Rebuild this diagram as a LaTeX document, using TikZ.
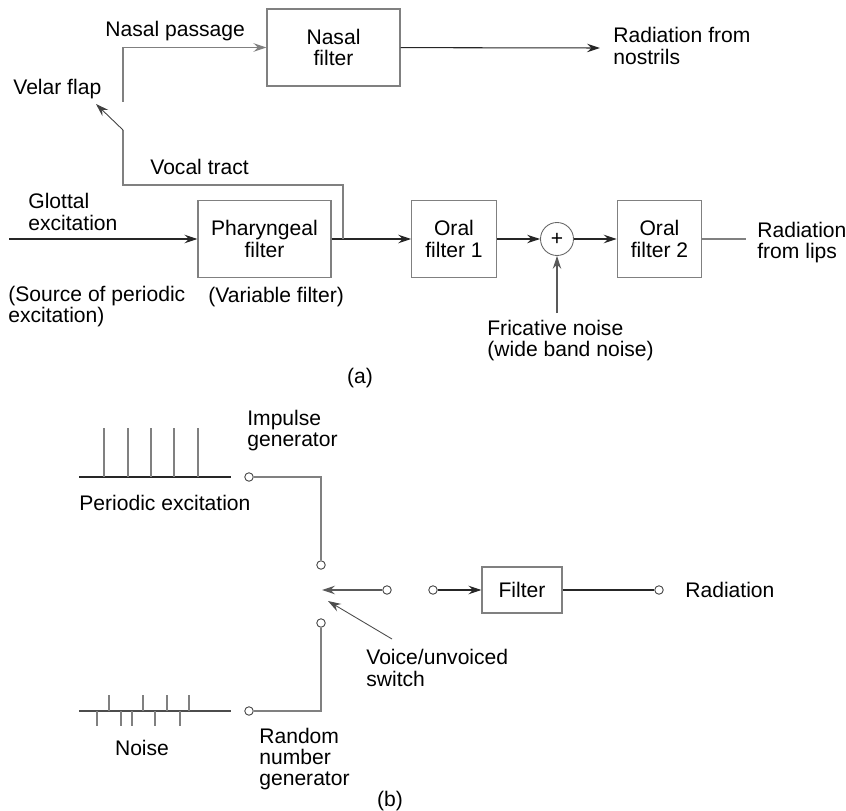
\documentclass[tikz,border=0pt]{standalone}
\usepackage{fontspec}
\setmainfont{Liberation Sans}
\usetikzlibrary{arrows.meta, positioning}

\begin{document}
\begin{tikzpicture}[x=0.02cm, y=-0.02cm, font=\fontsize{12}{12}\selectfont, >=Stealth]
  % Styles
  \tikzset{
    box/.style={draw=black!50, line width=0.6pt, align=center, minimum height=1.54cm, minimum width=2.66cm, inner sep=2pt},
    oral/.style={box, minimum width=1.69cm},
    term/.style={circle, draw=black!75, line width=0.5pt, fill=white, minimum size=0.17cm, inner sep=0pt},
    sumnode/.style={circle, draw=black!60, line width=0.5pt, minimum size=0.66cm, inner sep=0pt},
    arrow/.style={-{Stealth[length=2.6mm,width=1.7mm,inset=0.9mm]}, line width=0.6pt, draw=black!85},
    wire/.style={line width=0.6pt, draw=black!50},
    warrow/.style={wire, -{Stealth[length=2.6mm,width=1.7mm,inset=0.9mm]}},
    label/.style={align=left, anchor=west, inner sep=0pt}
  }
  \useasboundingbox (0,0) rectangle (846,811);

  % Nodes (a)
  \node[box] (nasal) at (333.5,47.5) {Nasal\\filter};
  \node[box] (phar) at (264.5,239) {Pharyngeal\\filter};
  \node[oral] (oral1) at (454,239) {Oral\\filter 1};
  \node[sumnode] (sum) at (557,239) {+};
  \node[oral] (oral2) at (659.5,239) {Oral\\filter 2};

  \coordinate (glot) at (9,239);
  \coordinate (tap) at (343,239);
  \coordinate (flap) at (123,130);
  \coordinate (flaptip) at (96,104);
  \coordinate (velar) at (123,102);
  \coordinate (nostril) at (600,48);
  \coordinate (lipsend) at (746,239);
  \coordinate (fricfoot) at (557,313);

  \node[label] (nasalpass) at (105,31) {Nasal passage};
  \node[label] (radnose) at (613,46) {Radiation from\\nostrils};
  \node[label] (velarlbl) at (13,89) {Velar flap};
  \node[label] (vocal) at (150,167) {Vocal tract};
  \node[label] (glottal) at (28,212) {Glottal\\excitation};
  \node[label] (source) at (8,307) {(Source of periodic\\excitation)};
  \node[label] (variable) at (208,297) {(Variable filter)};
  \node[label] (lips) at (757,243) {Radiation\\from lips};
  \node[label] (fric) at (487,341) {Fricative noise\\(wide band noise)};
  \node (capa) at (360,378) {(a)};

  % Arrows (a)
  \draw[arrow] (glot) -- (phar);
  \draw[arrow] (phar) -- (oral1);
  \draw[arrow] (oral1) -- (sum);
  \draw[arrow] (sum) -- (oral2);
  \draw[wire] (oral2) -- (lipsend);
  \draw[arrow, draw=black!65] (fricfoot) -- (sum);
  \draw[arrow] (nasal) -- (nostril);
  \draw[wire] (tap) -- ++(0,-54) -| (flap);
  \draw[warrow, line width=0.5pt, draw=black!75] (flap) -- (flaptip);
  \draw[warrow] (velar) |- (nasal.west);

  % Nodes (b)
  \node[term] (t1) at (249,477) {};
  \node[term] (t2) at (321,565) {};
  \node[term] (t3) at (387,590) {};
  \node[term] (t4) at (321,623) {};
  \node[term] (t5) at (249,711) {};
  \node[term] (t6) at (433,590) {};
  \node[box, minimum width=1.6cm, minimum height=0.92cm] (filter) at (522,590) {Filter};
  \node[term] (t7) at (659,590) {};

  \coordinate (swtip) at (322,590);
  \coordinate (swfoot) at (392,639);
  \coordinate (swhead) at (328,601);

  \node[label] (impulse) at (247,431) {Impulse\\generator};
  \node[label] (periodic) at (79,503) {Periodic excitation};
  \node[label] (radiation) at (685,590) {Radiation};
  \node[label] (switch) at (366,668) {Voice/unvoiced\\switch};
  \node (noise) at (142,748) {Noise};
  \node[label] (random) at (259,759) {Random\\number\\generator};
  \node (capb) at (390,801) {(b)};

  % Signals
  \draw[line width=0.6pt, black!85] (79,477) -- (231,477);
  \foreach \x in {104,128,151,174,198}
    \draw[wire] (\x,428) -- (\x,477);
  \draw[line width=0.6pt, black!70] (79,711) -- (231,711);
  \foreach \x in {109,143,167,189}
    \draw[wire] (\x,695) -- (\x,711);
  \foreach \x in {97,121,132,155,180}
    \draw[wire] (\x,711) -- (\x,726);

  % Arrows (b)
  \draw[wire] (t1) -| (t2);
  \draw[wire] (t5) -| (t4);
  \draw[warrow, draw=black!65] (t3) -- (swtip);
  \draw[warrow, line width=0.5pt, draw=black!70] (swfoot) -- (swhead);
  \draw[arrow] (t6) -- (filter);
  \draw[line width=0.6pt, black!85] (filter) -- (t7);
\end{tikzpicture}
\end{document}
